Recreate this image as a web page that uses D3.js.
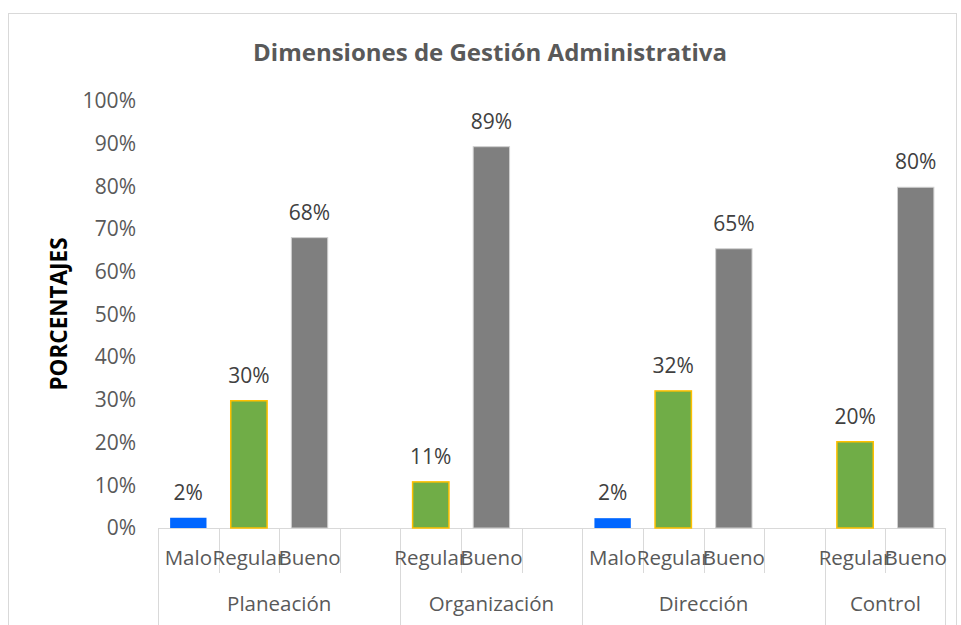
<!DOCTYPE html>
<html>
<head>
<meta charset="utf-8">
<script src="https://cdn.jsdelivr.net/npm/d3@7"></script>
<style>
  body { margin: 0; background: #fff; }
  text { font-family: "Open Sans", sans-serif; }
</style>
</head>
<body>
<svg id="chart" width="961" height="625"></svg>
<script>
// data
const groups = ['Planeación', 'Organización', 'Dirección', 'Control'];
const subcats = [
  ['Malo', 'Regular', 'Bueno', ''],
  ['Regular', 'Bueno', ''],
  ['Malo', 'Regular', 'Bueno', ''],
  ['Regular', 'Bueno']
];
const values = [
  [0.024, 0.298, 0.68, null],
  [0.108, 0.893, null],
  [0.023, 0.321, 0.654, null],
  [0.202, 0.798]
];
const yTicks = [0, 0.1, 0.2, 0.3, 0.4, 0.5, 0.6, 0.7, 0.8, 0.9, 1];

const fills = { Malo: '#0066ff', Regular: '#70ad47', Bueno: '#7f7f7f' };
const strokes = { Malo: 'none', Regular: '#ffc000', Bueno: '#d0d0d0' };

const svg = d3.select('#chart');

// outer chart border
svg.append('rect')
  .attr('x', 8.5).attr('y', 13.5)
  .attr('width', 948).attr('height', 640)
  .attr('fill', 'none').attr('stroke', '#d9d9d9');

const plotLeft = 158, plotRight = 946, plotTop = 101, plotBottom = 528;

// flatten leaves
const leaves = [];
groups.forEach((g, gi) => {
  subcats[gi].forEach((s, si) => {
    leaves.push({ key: gi + '|' + si, group: g, gi: gi, name: s, value: values[gi][si] });
  });
});

const x = d3.scaleBand()
  .domain(leaves.map(d => d.key))
  .range([plotLeft, plotRight])
  .paddingInner(0.4)
  .paddingOuter(0.2);
const step = x.step();
const slotStart = k => x(k) - step * 0.2;

const y = d3.scaleLinear().domain([0, 1]).range([plotBottom, plotTop]);

// title
svg.append('text')
  .attr('x', 490).attr('y', 61)
  .attr('text-anchor', 'middle')
  .attr('font-size', 24).attr('font-weight', 'bold')
  .attr('fill', '#595959')
  .text('Dimensiones de Gestión Administrativa');

// y axis
const yAxis = svg.append('g')
  .attr('transform', `translate(${plotLeft},0)`)
  .call(d3.axisLeft(y).tickValues(yTicks).tickFormat(d3.format('.0%')).tickSize(0).tickPadding(22));
yAxis.select('.domain').remove();
yAxis.selectAll('text')
  .attr('font-size', 21)
  .attr('fill', '#595959')
  .attr('font-family', '"Open Sans", sans-serif');

svg.append('text')
  .attr('transform', 'translate(67,314) rotate(-90)')
  .attr('text-anchor', 'middle')
  .attr('font-size', 22.5).attr('font-weight', 'bold')
  .attr('fill', '#000')
  .text('PORCENTAJES');

// category axis
const axisColor = '#d9d9d9';
svg.append('line')
  .attr('x1', plotLeft).attr('x2', plotRight)
  .attr('y1', plotBottom + 0.5).attr('y2', plotBottom + 0.5)
  .attr('stroke', axisColor);

// leaf separators
const groupStarts = new Set();
let acc = 0;
subcats.forEach(s => { groupStarts.add(acc); acc += s.length; });
leaves.forEach((d, i) => {
  const xx = Math.round(slotStart(d.key)) + 0.5;
  svg.append('line')
    .attr('x1', xx).attr('x2', xx)
    .attr('y1', plotBottom).attr('y2', groupStarts.has(i) ? 625 : 573)
    .attr('stroke', axisColor);
});
svg.append('line')
  .attr('x1', plotRight - 0.5).attr('x2', plotRight - 0.5)
  .attr('y1', plotBottom).attr('y2', 625)
  .attr('stroke', axisColor);

// leaf labels
svg.selectAll('.leaf')
  .data(leaves.filter(d => d.name))
  .enter().append('text')
  .attr('class', 'leaf')
  .attr('x', d => x(d.key) + x.bandwidth() / 2)
  .attr('y', 565)
  .attr('text-anchor', 'middle')
  .attr('font-size', 20.5)
  .attr('fill', '#595959')
  .text(d => d.name);

// group labels
let start = 0;
groups.forEach((g, gi) => {
  const n = subcats[gi].length;
  const k0 = leaves[start].key, k1 = leaves[start + n - 1].key;
  const cx = (slotStart(k0) + slotStart(k1) + step) / 2;
  svg.append('text')
    .attr('x', cx).attr('y', 611)
    .attr('text-anchor', 'middle')
    .attr('font-size', 20.5)
    .attr('fill', '#595959')
    .text(g);
  start += n;
});

// bars
const barData = leaves.filter(d => d.value != null);
svg.selectAll('.bar')
  .data(barData)
  .enter().append('rect')
  .attr('class', 'bar')
  .attr('x', d => x(d.key))
  .attr('y', d => y(d.value))
  .attr('width', x.bandwidth())
  .attr('height', d => plotBottom - y(d.value))
  .attr('fill', d => fills[d.name])
  .attr('stroke', d => strokes[d.name])
  .attr('stroke-width', d => d.name === 'Regular' ? 1.5 : 1);

// value labels
svg.selectAll('.val')
  .data(barData)
  .enter().append('text')
  .attr('class', 'val')
  .attr('x', d => x(d.key) + x.bandwidth() / 2)
  .attr('y', d => y(d.value) - 18)
  .attr('text-anchor', 'middle')
  .attr('font-size', 21)
  .attr('fill', '#404040')
  .text(d => d3.format('.0%')(d.value));
</script>
</body>
</html>
